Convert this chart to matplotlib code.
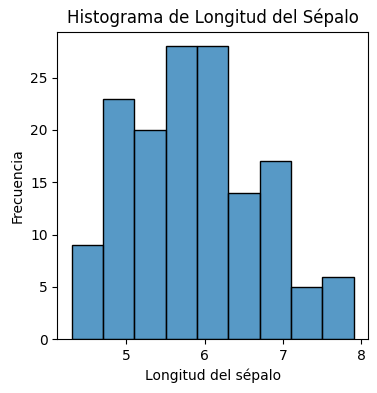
import matplotlib
matplotlib.use('Agg')
import matplotlib.pyplot as plt
from matplotlib.colors import to_rgba

# bin edges and counts (sepal length, iris)
bin_edges = [4.3, 4.7, 5.1, 5.5, 5.9, 6.3, 6.7, 7.1, 7.5, 7.9]
counts = [9, 23, 20, 28, 28, 14, 17, 5, 6]

fig = plt.figure(figsize=(3.77, 3.93), dpi=100)
ax = fig.add_axes([0.1525, 0.1366, 0.823, 0.783])

# alpha only on the face, edges stay solid black
ax.hist(bin_edges[:-1], bins=bin_edges, weights=counts,
        facecolor=to_rgba('#1f77b4', 0.75), edgecolor='black', linewidth=1)

ax.set_xlim(4.12, 8.08)
ax.set_ylim(0, 29.4)
ax.set_xticks([5, 6, 7, 8])
ax.set_yticks([0, 5, 10, 15, 20, 25])

ax.set_title("Histograma de Longitud del Sépalo", fontsize=12)
ax.set_xlabel("Longitud del sépalo")
ax.set_ylabel("Frecuencia")

plt.savefig('out.png', dpi=100)
plt.close()
